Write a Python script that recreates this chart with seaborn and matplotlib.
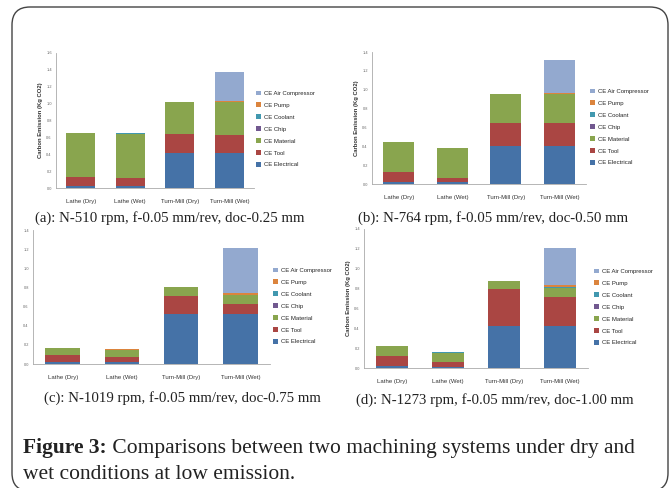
import matplotlib
matplotlib.use("Agg")
import matplotlib.pyplot as plt
from matplotlib.patches import FancyBboxPatch, Patch
from matplotlib.transforms import IdentityTransform
from matplotlib.text import Annotation
import seaborn as sns
import numpy as np
import pandas as pd

sns.set_theme(style="white")
plt.rcParams['font.family'] = ['Liberation Sans Narrow', 'Liberation Sans', 'DejaVu Sans']

categories = ["Lathe (Dry)", "Lathe (Wet)", "Turn-Mill (Dry)", "Turn-Mill (Wet)"]
components = ["CE Electrical", "CE Tool", "CE Material", "CE Chip",
              "CE Coolant", "CE Pump", "CE Air Compressor"]
colors = ["#4572A7", "#AA4643", "#89A54E", "#71588F", "#4198AF", "#DB843D", "#93A9CF"]

# panel (a) N-510 rpm
a_electrical = [0.02, 0.02, 0.41, 0.41]
a_tool       = [0.11, 0.10, 0.23, 0.22]
a_material   = [0.52, 0.525, 0.38, 0.385]
a_chip       = [0.0, 0.0, 0.0, 0.0]
a_coolant    = [0.0, 0.003, 0.0, 0.003]
a_pump       = [0.0, 0.005, 0.0, 0.012]
a_air        = [0.0, 0.0, 0.0, 0.35]

# panel (b) N-764 rpm
b_electrical = [0.02, 0.02, 0.405, 0.405]
b_tool       = [0.11, 0.04, 0.245, 0.245]
b_material   = [0.32, 0.32, 0.305, 0.305]
b_chip       = [0.0, 0.0, 0.0, 0.0]
b_coolant    = [0.0, 0.002, 0.0, 0.002]
b_pump       = [0.0, 0.004, 0.0, 0.012]
b_air        = [0.0, 0.0, 0.0, 0.35]

# panel (c) N-1019 rpm
c_electrical = [0.02, 0.02, 0.52, 0.52]
c_tool       = [0.07, 0.05, 0.195, 0.11]
c_material   = [0.077, 0.078, 0.085, 0.09]
c_chip       = [0.0, 0.0, 0.0, 0.0]
c_coolant    = [0.0, 0.002, 0.0, 0.002]
c_pump       = [0.0, 0.004, 0.0, 0.02]
c_air        = [0.0, 0.0, 0.0, 0.47]

# panel (d) N-1273 rpm
d_electrical = [0.017, 0.01, 0.42, 0.42]
d_tool       = [0.107, 0.05, 0.38, 0.30]
d_material   = [0.096, 0.095, 0.08, 0.09]
d_chip       = [0.0, 0.0, 0.0, 0.0]
d_coolant    = [0.0, 0.002, 0.0, 0.002]
d_pump       = [0.0, 0.006, 0.0, 0.02]
d_air        = [0.0, 0.0, 0.0, 0.38]

panel_data = {
    "a": [a_electrical, a_tool, a_material, a_chip, a_coolant, a_pump, a_air],
    "b": [b_electrical, b_tool, b_material, b_chip, b_coolant, b_pump, b_air],
    "c": [c_electrical, c_tool, c_material, c_chip, c_coolant, c_pump, c_air],
    "d": [d_electrical, d_tool, d_material, d_chip, d_coolant, d_pump, d_air],
}
y_max = {"a": 1.6, "b": 1.4, "c": 1.4, "d": 1.4}
subcaptions = {
    "a": "(a): N-510 rpm, f-0.05 mm/rev, doc-0.25 mm",
    "b": "(b): N-764 rpm, f-0.05 mm/rev, doc-0.50 mm",
    "c": "(c): N-1019 rpm, f-0.05 mm/rev, doc-0.75 mm",
    "d": "(d): N-1273 rpm, f-0.05 mm/rev, doc-1.00 mm",
}
ylabel_text = "Carbon Emission (Kg CO2)"
caption_bold = "Figure 3:"
caption_line1 = " Comparisons between two machining systems under dry and"
caption_line2 = "wet conditions at low emission."

W, H = 669, 488
fig = plt.figure(figsize=(W / 100, H / 100), dpi=100)
fig.patch.set_facecolor("white")

def fr(x0, y_bottom, x1, y_top):
    return [x0 / W, 1 - y_bottom / H, (x1 - x0) / W, (y_bottom - y_top) / H]

axes_px = {
    "a": fr(56, 188, 254, 53),
    "b": fr(372, 184, 586, 52),
    "c": fr(33, 364, 270, 230),
    "d": fr(364, 368, 588, 229),
}
legend_pos = {"a": (256, 129), "b": (590, 127), "c": (273, 306), "d": (594, 307)}
caption_pos = {"a": (170, 218), "b": (493, 218), "c": (182, 398), "d": (495, 400)}
show_ylabel = {"a": True, "b": True, "c": False, "d": True}

for key in ["a", "b", "c", "d"]:
    ax = fig.add_axes(axes_px[key])
    vals = np.array(panel_data[key])
    cum = np.cumsum(vals, axis=0)
    # draw from top of stack down so each lower layer covers the part below
    for i in range(len(components) - 1, -1, -1):
        df = pd.DataFrame({"cat": categories, "val": cum[i]})
        sns.barplot(data=df, x="cat", y="val", color=colors[i], saturation=1,
                    width=0.58, ax=ax, linewidth=0, order=categories)
    ax.set_ylim(0, y_max[key])
    ax.set_xlim(-0.5, 3.5)
    ticks = np.round(np.arange(0, y_max[key] + 0.001, 0.2), 1)
    ax.set_yticks(ticks)
    ax.set_yticklabels([f"{t:.1f}" for t in ticks], fontsize=2.8, color="#666666")
    ax.tick_params(axis="y", length=1.5, width=0.4, pad=1.5, colors="#888888", labelcolor="#666666")
    ax.tick_params(axis="x", length=0, pad=8, labelsize=4.3, labelcolor="#333333")
    ax.set_xlabel("")
    if show_ylabel[key]:
        ax.set_ylabel(ylabel_text, fontsize=4.2, fontweight="bold", color="#333333", labelpad=2)
    else:
        ax.set_ylabel("")
    for s in ["top", "right"]:
        ax.spines[s].set_visible(False)
    for s in ["left", "bottom"]:
        ax.spines[s].set_color("#AAAAAA")
        ax.spines[s].set_linewidth(0.6)
    ax.set_facecolor("none")
    handles = [Patch(facecolor=colors[i], edgecolor="none", label=components[i])
               for i in range(len(components) - 1, -1, -1)]
    lx, ly = legend_pos[key]
    fig.legend(handles=handles, loc="center left", bbox_to_anchor=(lx / W, 1 - ly / H),
               bbox_transform=fig.transFigure, frameon=False, fontsize=4.3,
               handlelength=0.8, handleheight=0.8, handletextpad=0.5,
               labelspacing=1.1, borderpad=0, borderaxespad=0)
    cx, cy = caption_pos[key]
    fig.text(cx / W, 1 - cy / H, subcaptions[key], ha="center", va="center",
             fontsize=10.7, family="Liberation Serif", color="#222222")

# outer rounded box
box = FancyBboxPatch((12, -3), 656, 484, boxstyle="round,pad=0,rounding_size=18",
                     transform=IdentityTransform(), fill=False, edgecolor="#444444",
                     linewidth=1.0, clip_on=False)
fig.patches.append(box)

t1 = fig.text(23 / W, 1 - 453 / H, caption_bold, fontsize=15.5, fontweight="bold",
              family="Liberation Serif", va="baseline", ha="left", color="#222222")
fig.add_artist(Annotation(caption_line1, xy=(1, 0), xycoords=t1, xytext=(0, 0),
                          textcoords="offset points", fontsize=15.5,
                          family="Liberation Serif", va="bottom", ha="left",
                          color="#222222"))
fig.text(23 / W, 1 - 479 / H, caption_line2, fontsize=15.5,
         family="Liberation Serif", va="baseline", ha="left", color="#222222")

fig.savefig("out.png", dpi=100, facecolor="white")
